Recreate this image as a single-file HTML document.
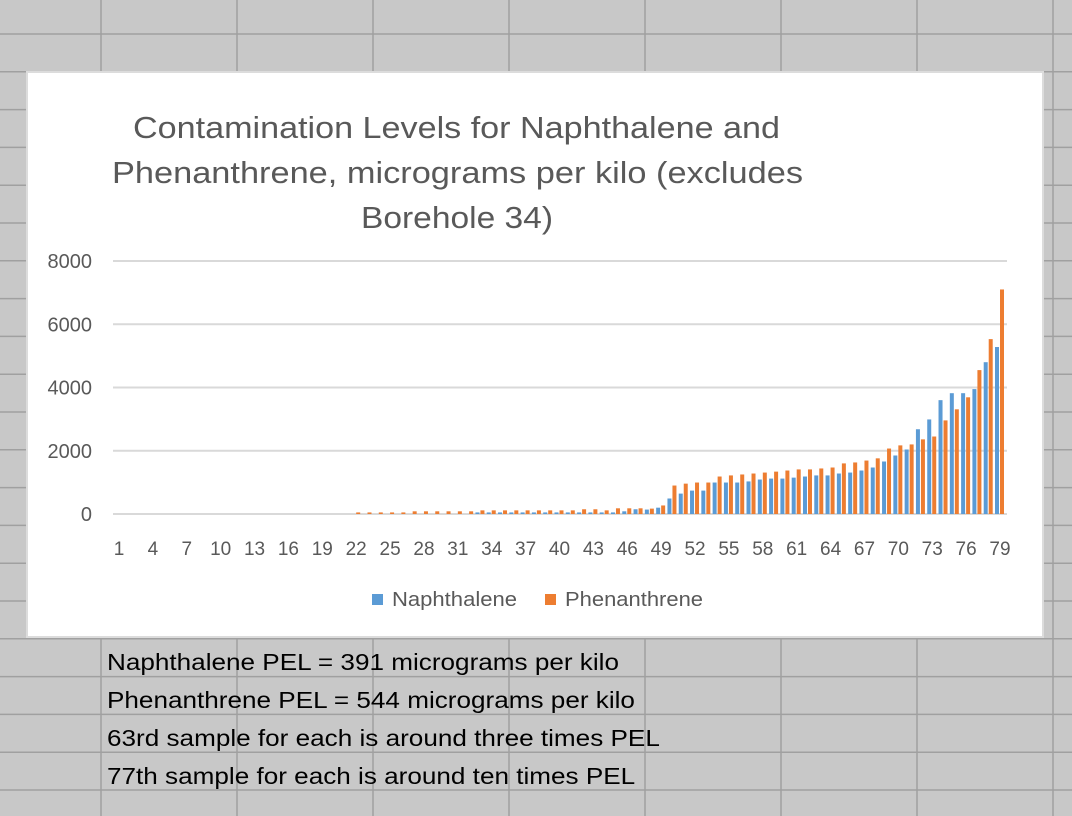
<!DOCTYPE html>
<html><head><meta charset="utf-8">
<style>
body{margin:0;width:1072px;height:816px;overflow:hidden;background:#c8c8c8;font-family:"Liberation Sans",Arial,sans-serif;position:relative}
.cell{position:absolute;left:107px;font-size:23px;color:#000;white-space:nowrap;transform:scaleX(1.135);transform-origin:0 0}
</style></head>
<body>
<svg id="grid" width="1072" height="816" style="position:absolute;left:0;top:0"></svg>
<div style="position:absolute;left:26px;top:71px;width:1014px;height:563px;background:#fff;border:2px solid #dcdcdc"></div>
<svg id="chart" width="1072" height="816" style="position:absolute;left:0;top:0"></svg>
<div class="cell" style="top:649px">Naphthalene PEL = 391 micrograms per kilo</div>
<div class="cell" style="top:687px">Phenanthrene PEL = 544 micrograms per kilo</div>
<div class="cell" style="top:725px">63rd sample for each is around three times PEL</div>
<div class="cell" style="top:763px">77th sample for each is around ten times PEL</div>
<script>
const categories = Array.from({length:79},(_, i)=>String(i+1));
const naphthalene = [0,0,0,0,0,0,0,0,0,0,0,0,0,0,0,0,0,0,0,0,0,0,0,0,0,0,0,0,0,0,0,0,50,50,50,50,50,50,50,50,50,50,50,50,50,85,150,140,200,490,645,740,740,995,995,995,1030,1090,1120,1120,1150,1185,1220,1220,1280,1310,1375,1470,1660,1850,2040,2680,2990,3600,3820,3820,3950,4800,5280];
const phenanthrene = [0,0,0,0,0,0,0,0,0,0,0,0,0,0,0,0,0,0,0,0,0,50,50,50,50,50,85,85,85,85,85,85,115,115,115,115,115,115,115,115,115,150,150,115,180,180,180,170,270,900,960,995,995,1185,1220,1250,1280,1310,1340,1375,1410,1410,1440,1470,1600,1630,1690,1760,2070,2170,2200,2360,2450,2960,3310,3690,4550,5530,7100];
const yTicks = [0,2000,4000,6000,8000];

const NS='http://www.w3.org/2000/svg';
function mk(parent,tag,attrs,text){const e=document.createElementNS(NS,tag);for(const k in attrs)e.setAttribute(k,attrs[k]);if(text!=null)e.textContent=text;parent.appendChild(e);return e;}

const g=document.getElementById('grid');
for(let x=101;x<1072;x+=136){const l=mk(g,'line',{x1:x,y1:0,x2:x,y2:816,stroke:'#a0a0a0','stroke-width':1.5});

}
for(let y=34;y<816;y+=37.8){const l=mk(g,'line',{x1:0,y1:y,x2:1072,y2:y,stroke:'#a0a0a0','stroke-width':1.5});

}

const s=document.getElementById('chart');
const y0=514, pxPer=253/8000;
const yS=v=>y0-v*pxPer;
const xS=i=>119+i*(1000-119)/78;

const titles=[['Contamination Levels for Naphthalene and',133,647],['Phenanthrene, micrograms per kilo  (excludes',112,691],['Borehole 34)',361,192]];
titles.forEach(([t,x,w],i)=>{const e=mk(s,'text',{x:x,y:138+i*45,'font-size':31,fill:'#595959',textLength:w,lengthAdjust:'spacingAndGlyphs'},t);

});

yTicks.forEach(v=>{
 const l=mk(s,'line',{x1:113,x2:1007,y1:yS(v),y2:yS(v),stroke:'#d9d9d9','stroke-width':2});
 
 
 const t=mk(s,'text',{x:92,y:yS(v)+7,'text-anchor':'end','font-size':20,fill:'#595959'},String(v));
 
 
});

categories.forEach((c,i)=>{
 const cx=xS(i);
 if(naphthalene[i]>0){const b=mk(s,'rect',{x:cx-5,y:yS(naphthalene[i]),width:4,height:naphthalene[i]*pxPer,fill:'#5b9bd5'});
 
 }
 if(phenanthrene[i]>0){const b=mk(s,'rect',{x:cx,y:yS(phenanthrene[i]),width:4,height:phenanthrene[i]*pxPer,fill:'#ed7d31'});
 
 }
 if(i%3===0){const t=mk(s,'text',{x:cx,y:555,'text-anchor':'middle','font-size':19,fill:'#595959'},c);
 
 }
});

const lg=[['Naphthalene','#5b9bd5',372,125],['Phenanthrene','#ed7d31',545,138]];
lg.forEach(([n,c,x,w])=>{
 const r=mk(s,'rect',{x:x,y:594,width:11,height:11,fill:c});
 
 
 const t=mk(s,'text',{x:x+20,y:606,'font-size':20,fill:'#595959',textLength:w,lengthAdjust:'spacingAndGlyphs'},n);
 
 
});
</script>
</body></html>
